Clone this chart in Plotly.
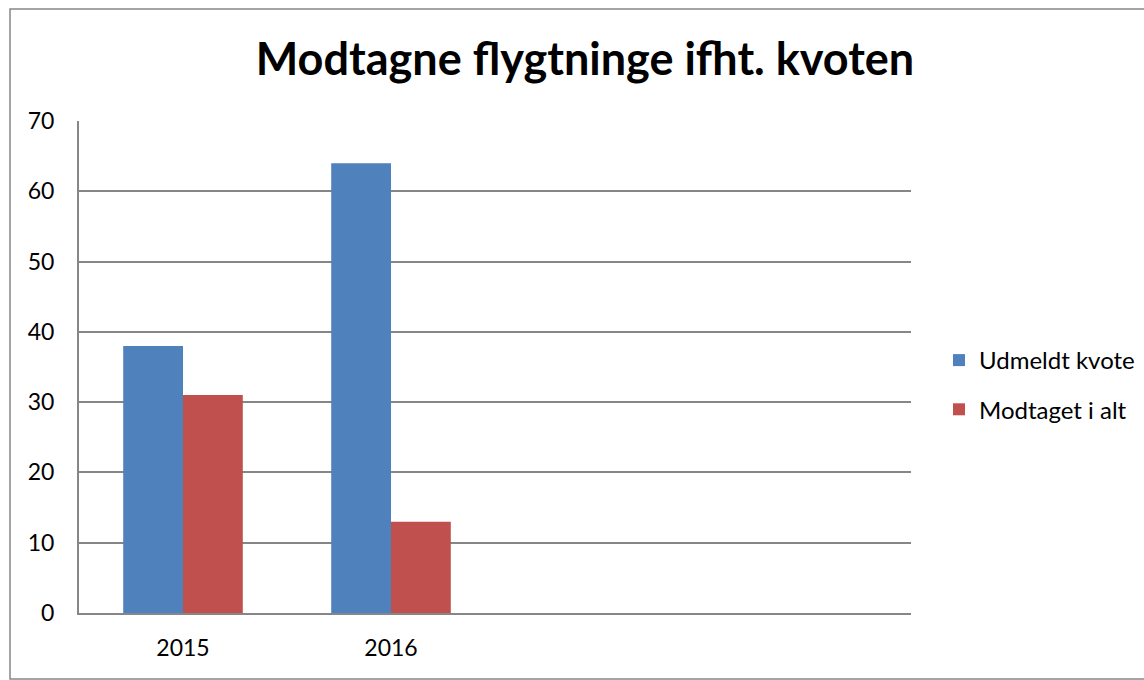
import plotly.graph_objects as go

categories = ["2015", "2016"]
udmeldt_kvote = [38, 64]
modtaget_i_alt = [31, 13]
series_names = ["Udmeldt kvote", "Modtaget i alt"]
y_ticks = [0, 10, 20, 30, 40, 50, 60, 70]

W, H = 1144, 680
L, R, T, B = 79, 233, 121, 67
pw, ph = W - L - R, H - T - B

FONT = "Lato"

fig = go.Figure()
fig.add_trace(go.Bar(x=categories, y=udmeldt_kvote, name=series_names[0],
                     marker=dict(color="#4F81BD", line=dict(width=0)), legendgroup="a"))
fig.add_trace(go.Bar(x=categories, y=modtaget_i_alt, name=series_names[1],
                     marker=dict(color="#C0504D", line=dict(width=0)), legendgroup="b"))

def px_x(x):  # page pixel -> paper
    return (x - L) / pw

def px_y(y):
    return (H - B - y) / ph

fig.update_layout(
    width=W, height=H,
    margin=dict(l=L, r=R, t=T, b=B, pad=0, autoexpand=False),
    paper_bgcolor="white", plot_bgcolor="white",
    barmode="group", bargap=0.425, bargroupgap=0,
    font=dict(family=FONT, size=24, color="black"),
    title=dict(text="<b>Modtagne flygtninge ifht. kvoten</b>",
               font=dict(family=FONT, size=45, color="black"),
               x=px_x(585), xref="paper", xanchor="center",
               y=1 - 59 / H, yref="container", yanchor="middle"),
    xaxis=dict(type="category", range=[-0.5, 3.5], showgrid=False,
               showline=True, linecolor="#868686", linewidth=2,
               ticks="", ticklabelstandoff=13, tickfont=dict(size=23)),
    yaxis=dict(range=[0, 70], tickvals=y_ticks, showgrid=True,
               gridcolor="#868686", gridwidth=1.5,
               showline=True, linecolor="#868686", linewidth=2,
               ticks="", ticklabelstandoff=18, tickfont=dict(size=23), zeroline=False),
    legend=dict(x=px_x(939), xanchor="left", y=px_y(385), yanchor="middle",
                font=dict(size=24), tracegroupgap=15, itemclick=False,
                bgcolor="rgba(0,0,0,0)"),
    shapes=[dict(type="rect", xref="paper", yref="paper",
                 x0=px_x(10), x1=px_x(1170), y0=px_y(679), y1=px_y(9),
                 line=dict(color="#868686", width=1.5), layer="below")],
)

fig.write_html("out.html", config={"displayModeBar": False},
               post_script="document.body.style.margin='0';document.body.style.overflow='hidden';")
